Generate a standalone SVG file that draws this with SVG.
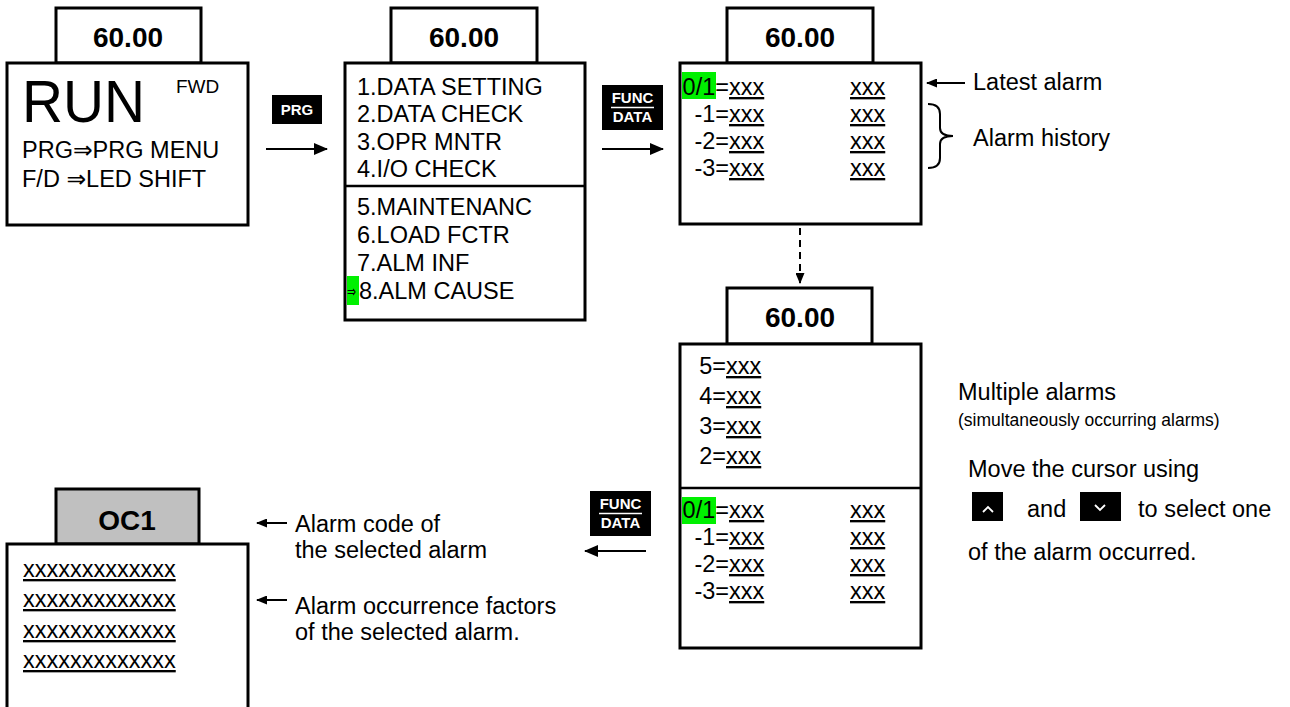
<svg xmlns="http://www.w3.org/2000/svg" width="1290" height="707" viewBox="0 0 1290 707">
<style>
text{font-family:"Liberation Sans",Arial,"DejaVu Sans",sans-serif;fill:#000}
.box{fill:#fff;stroke:#000;stroke-width:3}
.tab{fill:#fff;stroke:#000;stroke-width:3}
.hd{font-size:28px;font-weight:bold;text-anchor:middle}
.t{font-size:23.5px}
.u{font-size:23.5px;text-decoration:underline}
.e{font-size:23.5px;text-anchor:end}
.btn{fill:#000}
.bt{fill:#fff;font-weight:bold;font-size:15px;text-anchor:middle}
.hl{fill:#00f000}
.ln{stroke:#000;stroke-width:2;fill:none}
</style>
<defs>
<marker id="ah" markerUnits="userSpaceOnUse" markerWidth="14" markerHeight="12" viewBox="0 0 14 12" refX="13" refY="6" orient="auto"><path d="M0,0 L14,6 L0,12 z" fill="#000"/></marker>
<marker id="as" markerUnits="userSpaceOnUse" markerWidth="11" markerHeight="9" viewBox="0 0 11 9" refX="10" refY="4.5" orient="auto"><path d="M0,0 L11,4.5 L0,9 z" fill="#000"/></marker>
</defs>

<g id="screen-run">
<rect class="tab" x="56" y="8" width="145" height="55"/>
<rect class="box" x="7" y="63" width="241" height="162"/>
<text class="hd" x="128" y="47">60.00</text>
<text x="22" y="122" font-size="60" textLength="123" lengthAdjust="spacingAndGlyphs">RUN</text>
<text x="176" y="93" font-size="19">FWD</text>
<text class="t" x="22" y="158">PRG⇒PRG MENU</text>
<text class="t" x="22" y="187">F/D ⇒LED SHIFT</text>
</g>

<g id="btn-prg">
<rect class="btn" x="272" y="95" width="50" height="29"/>
<text class="bt" x="297" y="115">PRG</text>
</g>

<g id="screen-menu">
<rect class="tab" x="391" y="8" width="146" height="55"/>
<rect class="box" x="345" y="63" width="240" height="257"/>
<line x1="345" y1="186" x2="585" y2="186" stroke="#000" stroke-width="2.5"/>
<text class="hd" x="464" y="47">60.00</text>
<text class="t" x="357" y="95">1.DATA SETTING</text>
<text class="t" x="357" y="122">2.DATA CHECK</text>
<text class="t" x="357" y="150">3.OPR MNTR</text>
<text class="t" x="357" y="177">4.I/O CHECK</text>
<text class="t" x="357" y="215">5.MAINTENANC</text>
<text class="t" x="357" y="243">6.LOAD FCTR</text>
<text class="t" x="357" y="271">7.ALM INF</text>
<rect class="hl" x="347" y="276" width="12" height="29"/>
<text x="347" y="297" font-size="16" textLength="9" lengthAdjust="spacingAndGlyphs">⇒</text>
<text class="t" x="359" y="299">8.ALM CAUSE</text>
</g>

<g id="btn-func-1">
<rect class="btn" x="602" y="85" width="61" height="45"/>
<text class="bt" x="632.5" y="103">FUNC</text>
<line x1="611" y1="107.5" x2="654" y2="107.5" stroke="#fff" stroke-width="1.5"/>
<text class="bt" x="632.5" y="122">DATA</text>
</g>

<g id="screen-alarm">
<rect class="tab" x="727" y="8" width="146" height="55"/>
<rect class="box" x="680" y="63" width="241" height="161"/>
<text class="hd" x="800" y="47">60.00</text>
<rect class="hl" x="682" y="72" width="34" height="27"/>
<text class="e" x="729" y="95">0/1=</text><text class="u" x="729" y="95">xxx</text><text class="u" x="850" y="95">xxx</text>
<text class="e" x="729" y="122">-1=</text><text class="u" x="729" y="122">xxx</text><text class="u" x="850" y="122">xxx</text>
<text class="e" x="729" y="149">-2=</text><text class="u" x="729" y="149">xxx</text><text class="u" x="850" y="149">xxx</text>
<text class="e" x="729" y="176">-3=</text><text class="u" x="729" y="176">xxx</text><text class="u" x="850" y="176">xxx</text>
</g>

<g id="note-latest">
<text class="t" x="973" y="90">Latest alarm</text>
</g>
<g id="note-history">
<path class="ln" d="M928,104 Q940,104 940,114 L940,128 Q940,136 953,136 Q940,136 940,144 L940,158 Q940,168 928,168"/>
<text class="t" x="973" y="146">Alarm history</text>
</g>

<g id="screen-multi">
<rect class="tab" x="727" y="288" width="145" height="56"/>
<rect class="box" x="680" y="344" width="241" height="304"/>
<line x1="680" y1="488" x2="921" y2="488" stroke="#000" stroke-width="2.5"/>
<text class="hd" x="800" y="327">60.00</text>
<text class="e" x="726" y="374">5=</text><text class="u" x="726" y="374">xxx</text>
<text class="e" x="726" y="404">4=</text><text class="u" x="726" y="404">xxx</text>
<text class="e" x="726" y="434">3=</text><text class="u" x="726" y="434">xxx</text>
<text class="e" x="726" y="464">2=</text><text class="u" x="726" y="464">xxx</text>
<rect class="hl" x="682" y="497" width="34" height="27"/>
<text class="e" x="729" y="518">0/1=</text><text class="u" x="729" y="518">xxx</text><text class="u" x="850" y="518">xxx</text>
<text class="e" x="729" y="545">-1=</text><text class="u" x="729" y="545">xxx</text><text class="u" x="850" y="545">xxx</text>
<text class="e" x="729" y="572">-2=</text><text class="u" x="729" y="572">xxx</text><text class="u" x="850" y="572">xxx</text>
<text class="e" x="729" y="599">-3=</text><text class="u" x="729" y="599">xxx</text><text class="u" x="850" y="599">xxx</text>
</g>

<g id="note-multi">
<text x="958" y="400" font-size="23.5">Multiple alarms</text>
<text x="958" y="426" font-size="17.5">(simultaneously occurring alarms)</text>
<text x="968" y="477" font-size="23.5">Move the cursor using</text>
<rect class="btn" x="972" y="492" width="31" height="29"/>
<polyline points="983,512 988,507 993,512" fill="none" stroke="#fff" stroke-width="1.8"/>
<text x="1027" y="517" font-size="23.5">and</text>
<rect class="btn" x="1080" y="492" width="41" height="29"/>
<polyline points="1095,505 1100,510 1105,505" fill="none" stroke="#fff" stroke-width="1.8"/>
<text x="1138" y="517" font-size="23.5">to select one</text>
<text x="968" y="560" font-size="23.5">of the alarm occurred.</text>
</g>

<g id="btn-func-2">
<rect class="btn" x="590" y="491" width="61" height="45"/>
<text class="bt" x="620.5" y="509">FUNC</text>
<line x1="599" y1="513.5" x2="642" y2="513.5" stroke="#fff" stroke-width="1.5"/>
<text class="bt" x="620.5" y="528">DATA</text>
</g>

<g id="screen-oc1">
<rect class="tab" x="56" y="489" width="143" height="55" style="fill:#c0c0c0"/>
<rect class="box" x="7" y="544" width="241" height="180"/>
<text class="hd" x="127" y="530">OC1</text>
<text class="u" x="23" y="577">xxxxxxxxxxxxx</text>
<text class="u" x="23" y="607">xxxxxxxxxxxxx</text>
<text class="u" x="23" y="638">xxxxxxxxxxxxx</text>
<text class="u" x="23" y="668">xxxxxxxxxxxxx</text>
</g>

<g id="note-oc1">
<text class="t" x="295" y="532">Alarm code of</text>
<text class="t" x="295" y="558">the selected alarm</text>
<text class="t" x="295" y="614">Alarm occurrence factors</text>
<text class="t" x="295" y="640">of the selected alarm.</text>
</g>

<g id="connectors">
<line class="ln" x1="266" y1="149" x2="327" y2="149" marker-end="url(#ah)"/>
<line class="ln" x1="602" y1="149" x2="663" y2="149" marker-end="url(#ah)"/>
<line class="ln" x1="800" y1="228" x2="800" y2="283" stroke-dasharray="7,5" marker-end="url(#as)"/>
<line class="ln" x1="646" y1="551" x2="585" y2="551" marker-end="url(#ah)"/>
<line class="ln" x1="965" y1="83" x2="927" y2="83" marker-end="url(#as)"/>
<line class="ln" x1="287" y1="523" x2="257" y2="523" marker-end="url(#as)"/>
<line class="ln" x1="287" y1="600" x2="257" y2="600" marker-end="url(#as)"/>
</g>
</svg>
